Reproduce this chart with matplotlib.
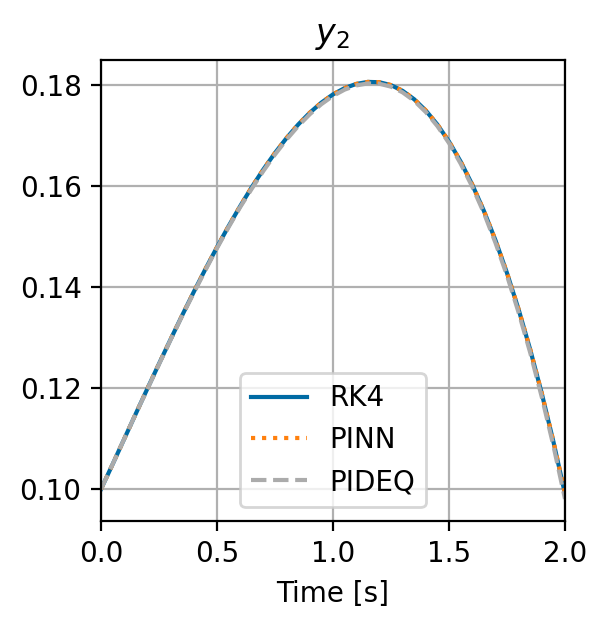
import matplotlib
matplotlib.use("Agg")
import matplotlib.pyplot as plt

time = [0.00, 0.05, 0.10, 0.15, 0.20, 0.25, 0.30, 0.35, 0.40, 0.45,
        0.50, 0.55, 0.60, 0.65, 0.70, 0.75, 0.80, 0.85, 0.90, 0.95,
        1.00, 1.05, 1.10, 1.15, 1.20, 1.25, 1.30, 1.35, 1.40, 1.45,
        1.50, 1.55, 1.60, 1.65, 1.70, 1.75, 1.80, 1.85, 1.90, 1.95, 2.00]

rk4 = [0.10000, 0.10493, 0.10995, 0.11495, 0.11992, 0.12484, 0.12968, 0.13444,
       0.13908, 0.14358, 0.14793, 0.15210, 0.15607, 0.15982, 0.16334, 0.16659,
       0.16956, 0.17222, 0.17456, 0.17656, 0.17819, 0.17943, 0.18026, 0.18066,
       0.18060, 0.18002, 0.17889, 0.17722, 0.17499, 0.17221, 0.16885, 0.16490,
       0.16034, 0.15516, 0.14933, 0.14281, 0.13560, 0.12765, 0.11894, 0.10942,
       0.09907]

pinn = [0.10000, 0.10493, 0.10995, 0.11495, 0.11992, 0.12484, 0.12968, 0.13444,
        0.13908, 0.14358, 0.14793, 0.15210, 0.15607, 0.15982, 0.16334, 0.16659,
        0.16956, 0.17222, 0.17456, 0.17656, 0.17819, 0.17943, 0.18026, 0.18066,
        0.18062, 0.18004, 0.17891, 0.17724, 0.17501, 0.17224, 0.16888, 0.16493,
        0.16037, 0.15519, 0.14936, 0.14284, 0.13565, 0.12770, 0.11900, 0.10950,
        0.09920]

pideq = [0.10000, 0.10493, 0.10995, 0.11495, 0.11982, 0.12474, 0.12958, 0.13434,
         0.13888, 0.14338, 0.14773, 0.15190, 0.15587, 0.15952, 0.16304, 0.16629,
         0.16926, 0.17192, 0.17426, 0.17626, 0.17789, 0.17913, 0.17996, 0.18036,
         0.18030, 0.17972, 0.17859, 0.17692, 0.17469, 0.17191, 0.16855, 0.16450,
         0.15994, 0.15476, 0.14883, 0.14231, 0.13500, 0.12705, 0.11824, 0.10862,
         0.09807]

labels = ["RK4", "PINN", "PIDEQ"]
colors = ["#006BA4", "#FF800E", "#ABABAB"]
styles = ["-", ":", "--"]

fig = plt.figure(figsize=(609 / 200, 627 / 200), dpi=200)
ax = fig.add_axes([101 / 609, 1 - 521 / 627, (565 - 101) / 609, (521 - 60) / 627])

for series, lab, col, ls in zip([rk4, pinn, pideq], labels, colors, styles):
    ax.plot(time, series, ls, color=col, label=lab, lw=1.5)

ax.set_xlim(0, 2)
ax.set_ylim(0.0937, 0.1850)
ax.set_xticks([0.0, 0.5, 1.0, 1.5, 2.0])
ax.set_yticks([0.10, 0.12, 0.14, 0.16, 0.18])
ax.set_xlabel("Time [s]")
ax.set_title("$y_2$")
ax.grid(True)
ax.legend(loc="lower center")

fig.savefig("out.png", dpi=200)
